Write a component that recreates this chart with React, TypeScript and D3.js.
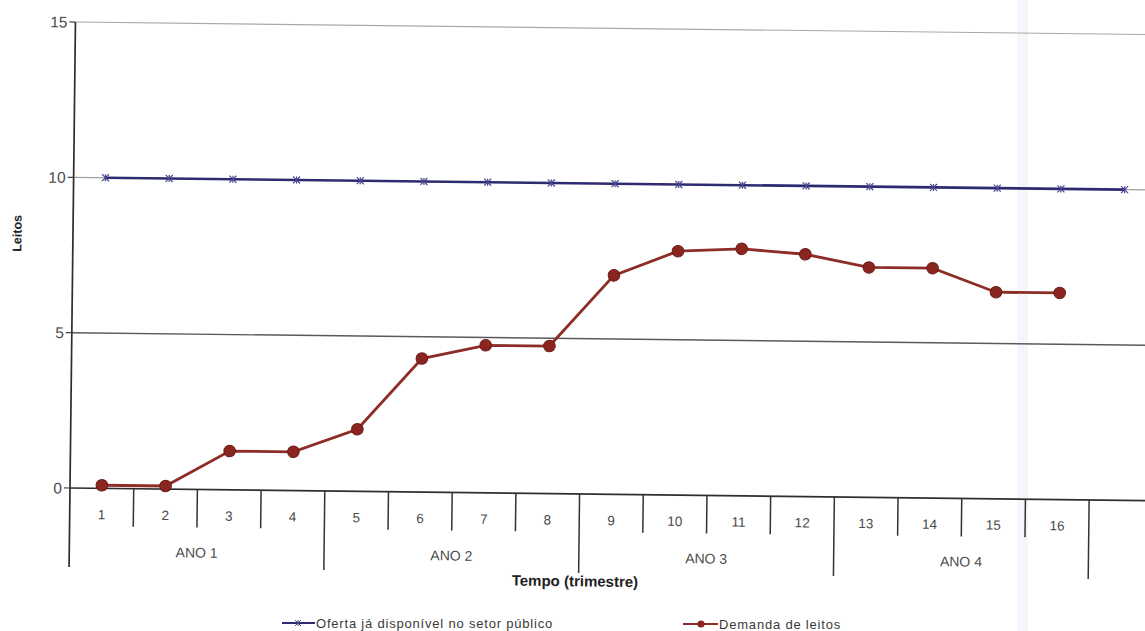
import React from 'react';
import * as d3 from 'd3';

// Quarter categories on the time axis (the 17th slot is left unlabeled)
const quarterLabels = ['1', '2', '3', '4', '5', '6', '7', '8', '9', '10', '11', '12', '13', '14', '15', '16', ''];
// Year groups, four quarters each
const yearLabels = ['ANO 1', 'ANO 2', 'ANO 3', 'ANO 4', ''];
// Beds already available in the public sector
const supplyValues = [10, 10, 10, 10, 10, 10, 10, 10, 10, 10, 10, 10, 10, 10, 10, 10, 10];
// Bed demand per quarter
const demandValues = [0.1, 0.1, 1.25, 1.25, 2.0, 4.3, 4.75, 4.75, 7.05, 7.85, 7.95, 7.8, 7.4, 7.4, 6.65, 6.65];
const yTickValues = [0, 5, 10, 15];

const supplyLabel = 'Oferta já disponível no setor público';
const demandLabel = 'Demanda de leitos';

const W = 1145;
const H = 631;
const FONT = '"Liberation Sans", Arial, sans-serif';

const left = 70;
const top = 22;
const bottom = 488;
const band = 63.7;

const x = d3
  .scaleBand<number>()
  .domain(d3.range(quarterLabels.length))
  .range([left, left + band * quarterLabels.length])
  .paddingInner(0)
  .paddingOuter(0);
const y = d3.scaleLinear().domain([0, 15]).range([bottom, top]);
const cx = (i: number) => (x(i) as number) + x.bandwidth() / 2;

const gridColor: Record<number, string> = { 0: '#555', 5: '#5a5a5a', 10: '#a0a0a0', 15: '#a8a8a8' };

function StarMarker({ px, py, s, color, w }: { px: number; py: number; s: number; color: string; w: number }) {
  return (
    <g stroke={color} strokeWidth={w} fill="none">
      <line x1={px - s} y1={py - s} x2={px + s} y2={py + s} />
      <line x1={px - s} y1={py + s} x2={px + s} y2={py - s} />
      <line x1={px} y1={py - s} x2={px} y2={py + s} />
    </g>
  );
}

export default function App() {
  const supplyLine = d3
    .line<number>()
    .x((_, i) => cx(i))
    .y((d) => y(d));
  const demandLine = d3
    .line<number>()
    .x((_, i) => cx(i))
    .y((d) => y(d));

  const xEnd = left + band * quarterLabels.length;
  const quarterTickBottom = 526;
  const yearTickBottom = 567;

  return (
    <svg
      width={W}
      height={H}
      viewBox={`0 0 ${W} ${H}`}
      style={{ position: 'absolute', left: 0, top: 0, background: '#fff' }}
      fontFamily={FONT}
    >
      <rect x={0} y={0} width={W} height={H} fill="#fff" />
      {/* faint fold band */}
      <rect x={1017} y={0} width={11} height={H} fill="#f3f6fa" />

      <g transform={`rotate(0.67, ${left}, ${bottom})`}>
        {/* horizontal gridlines */}
        {yTickValues
          .filter((v) => v > 0)
          .map((v) => (
            <line
              key={`g${v}`}
              x1={left}
              x2={xEnd}
              y1={y(v)}
              y2={y(v)}
              stroke={gridColor[v]}
              strokeWidth={v === 5 ? 1.4 : 1.1}
            />
          ))}

        {/* value axis */}
        <line x1={left} x2={left} y1={top} y2={yearTickBottom} stroke="#2e2e2e" strokeWidth={1.7} />
        {yTickValues.map((v) => (
          <g key={`yt${v}`}>
            <line x1={left - 6} x2={left} y1={y(v)} y2={y(v)} stroke="#444" strokeWidth={1.2} />
            <text
              x={left - 8}
              y={y(v)}
              dy="0.36em"
              textAnchor="end"
              fontSize={15.5}
              fill="#4a4a4a"
            >
              {v}
            </text>
          </g>
        ))}
        <text
          transform={`translate(14, 234) rotate(-90)`}
          textAnchor="middle"
          dy="0.36em"
          fontSize={12.5}
          fontWeight="bold"
          fill="#222"
        >
          Leitos
        </text>

        {/* category axis */}
        <line x1={left} x2={xEnd} y1={bottom} y2={bottom} stroke="#2e2e2e" strokeWidth={1.7} />
        {quarterLabels.map((q, i) => (
          <g key={`q${i}`}>
            {i > 0 && i % 4 !== 0 && (
              <line
                x1={x(i) as number}
                x2={x(i) as number}
                y1={bottom}
                y2={quarterTickBottom}
                stroke="#333"
                strokeWidth={1.5}
              />
            )}
            <text x={cx(i)} y={514} dy="0.36em" textAnchor="middle" fontSize={13.5} fill="#4a4a4a">
              {q}
            </text>
          </g>
        ))}
        {yearLabels.map((yl, k) => {
          const i0 = k * 4;
          const i1 = Math.min(i0 + 4, quarterLabels.length);
          const xa = x(i0) as number;
          const xb = i1 < quarterLabels.length ? (x(i1) as number) : xEnd;
          return (
            <g key={`y${k}`}>
              {k > 0 && (
                <line x1={xa} x2={xa} y1={bottom} y2={yearTickBottom} stroke="#333" strokeWidth={1.5} />
              )}
              <text x={(xa + xb) / 2} y={551} dy="0.36em" textAnchor="middle" fontSize={14} fill="#4a4a4a">
                {yl}
              </text>
            </g>
          );
        })}
        <text x={576} y={575} dy="0.36em" textAnchor="middle" fontSize={15} fontWeight="bold" fill="#222">
          Tempo (trimestre)
        </text>

        {/* supply series */}
        <path d={supplyLine(supplyValues) ?? ''} fill="none" stroke="#2e2b70" strokeWidth={2.6} />
        {supplyValues.map((v, i) => (
          <StarMarker key={`s${i}`} px={cx(i)} py={y(v)} s={3.5} color="#4a4790" w={1.2} />
        ))}

        {/* demand series */}
        <path d={demandLine(demandValues) ?? ''} fill="none" stroke="#8e2c26" strokeWidth={2.8} />
        {demandValues.map((v, i) => (
          <circle key={`d${i}`} cx={cx(i)} cy={y(v)} r={5.8} fill="#8a2520" stroke="#6d1b17" strokeWidth={1} />
        ))}
      </g>

      {/* legend */}
      <g>
        <line x1={282} x2={315} y1={623} y2={623} stroke="#2e2b70" strokeWidth={2} />
        <StarMarker px={298} py={623} s={3} color="#4a4790" w={1} />
        <text x={316} y={623} dy="0.36em" fontSize={13} letterSpacing={0.8} fill="#3a3a3a">
          {supplyLabel}
        </text>
        <line x1={683} x2={718} y1={624} y2={624} stroke="#8e2c26" strokeWidth={2.2} />
        <circle cx={701} cy={624} r={3.6} fill="#8a2520" />
        <text x={719} y={624} dy="0.36em" fontSize={13} letterSpacing={0.8} fill="#3a3a3a">
          {demandLabel}
        </text>
      </g>
    </svg>
  );
}
